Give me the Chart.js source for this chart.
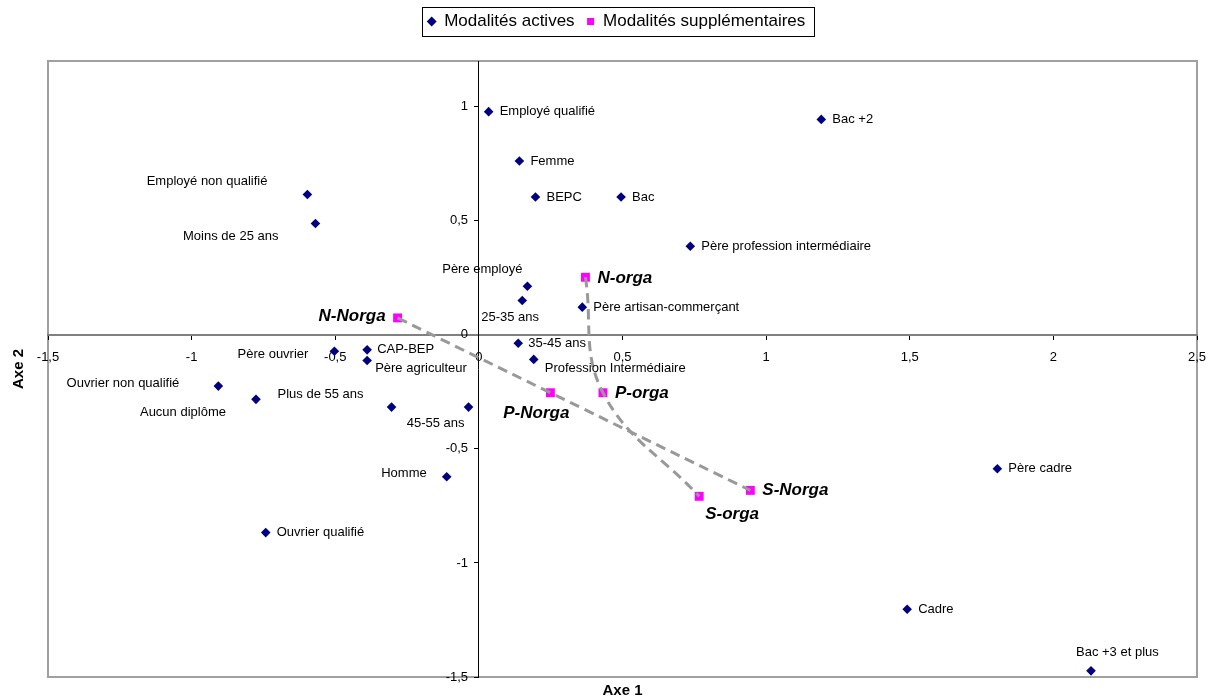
<!DOCTYPE html>
<html lang="fr">
<head>
<meta charset="utf-8">
<title>Modalités actives et supplémentaires</title>
<script src="https://cdn.jsdelivr.net/npm/chart.js@4.4.1/dist/chart.umd.min.js"></script>
<style>
  html, body { margin: 0; padding: 0; background: #fff; }
  #chart { display: block; }
</style>
</head>
<body>
<canvas id="chart" width="1208" height="700"></canvas>
<script>
// Modalités actives (coordonnées sur les axes 1 et 2)
const activeLabels = ['Employé qualifié', 'Bac +2', 'Femme', 'BEPC', 'Bac',
  'Père profession intermédiaire', 'Père employé', '25-35 ans', 'Père artisan-commerçant',
  'Employé non qualifié', 'Moins de 25 ans', 'Père ouvrier', 'CAP-BEP', 'Père agriculteur',
  '35-45 ans', 'Profession Intermédiaire', 'Ouvrier non qualifié', 'Aucun diplôme',
  'Plus de 55 ans', '45-55 ans', 'Homme', 'Ouvrier qualifié', 'Père cadre', 'Cadre',
  'Bac +3 et plus'];
const activeX = [0.034, 1.192, 0.141, 0.197, 0.495, 0.736, 0.169, 0.151, 0.360, -0.597,
  -0.569, -0.503, -0.389, -0.389, 0.137, 0.191, -0.907, -0.776, -0.304, -0.036, -0.112,
  -0.742, 1.805, 1.491, 2.131];
const activeY = [0.978, 0.944, 0.762, 0.604, 0.604, 0.388, 0.213, 0.150, 0.121, 0.615,
  0.488, -0.072, -0.066, -0.113, -0.037, -0.108, -0.225, -0.283, -0.317, -0.317, -0.622,
  -0.867, -0.587, -1.203, -1.473];

// Modalités supplémentaires
const suppLabels = ['N-Norga', 'P-Norga', 'S-Norga', 'N-orga', 'P-orga', 'S-orga'];
const suppX = [-0.283, 0.249, 0.945, 0.371, 0.432, 0.767];
const suppY = [0.074, -0.254, -0.682, 0.252, -0.254, -0.708];

// graduations
const xTicks = [-1.5, -1, -0.5, 0, 0.5, 1, 1.5, 2, 2.5];
const yTicks = [-1.5, -1, -0.5, 0, 0.5, 1];

// placement des étiquettes par rapport au point : [dx, dy, alignement]
const activePlace = [
  [11, 0, 'left'], [11, 0, 'left'], [11, 0, 'left'], [11, 0, 'left'], [11, 0, 'left'],
  [11, 0, 'left'], [-5, -17, 'right'], [-41, 17, 'left'], [11, 0, 'left'],
  [-40, -13, 'right'], [-37, 13, 'right'], [-26, 3, 'right'], [10, 0, 'left'],
  [8, 8, 'left'], [10, 0, 'left'], [11, 9, 'left'], [-39, -3, 'right'],
  [-30, 13, 'right'], [-28, -13, 'right'], [-4, 16, 'right'], [-20, -3, 'right'],
  [11, 0, 'left'], [11, 0, 'left'], [11, 0, 'left'], [-15, -18, 'left']
];
const suppPlace = [
  [-12, -2, 'right'], [19, 21, 'right'], [12, 0, 'left'],
  [12, 1, 'left'], [12, 1, 'left'], [6, 18, 'left']
];

const FONT = '"Liberation Sans", Arial, sans-serif';
Chart.defaults.font.family = FONT;
Chart.defaults.color = '#000';

function pts(xs, ys) {
  return xs.map((x, i) => ({ x: x, y: ys[i] }));
}
function fr(v) {
  return String(v).replace('.', ',');
}

const suppPts = pts(suppX, suppY);

// espace sous la légende et petit décalage horizontal
const legendFix = {
  id: 'legendFix',
  beforeInit(chart) {
    const fit = chart.legend.fit;
    chart.legend.fit = function () {
      fit.call(this);
      this.height += 21;
    };
  },
  afterLayout(chart) {
    chart.legend.left -= 6;
    chart.legend.right -= 6;
  }
};

const decor = {
  id: 'decor',
  beforeDraw(chart) {
    const { ctx, chartArea: a } = chart;
    ctx.save();
    ctx.fillStyle = '#fff';
    ctx.fillRect(0, 0, chart.width, chart.height);
    ctx.strokeStyle = '#a0a0a0';
    ctx.lineWidth = 2;
    ctx.strokeRect(a.left, a.top, a.right - a.left, a.bottom - a.top);
    ctx.restore();
  },
  afterDatasetsDraw(chart) {
    const ctx = chart.ctx;
    ctx.save();
    ctx.textBaseline = 'middle';
    ctx.fillStyle = '#000';
    ctx.font = '13px ' + FONT;
    chart.getDatasetMeta(0).data.forEach((el, i) => {
      const p = activePlace[i];
      ctx.textAlign = p[2];
      ctx.fillText(activeLabels[i], el.x + p[0], el.y + p[1]);
    });
    ctx.font = 'italic bold 17px ' + FONT;
    chart.getDatasetMeta(3).data.forEach((el, i) => {
      const p = suppPlace[i];
      ctx.textAlign = p[2];
      ctx.fillText(suppLabels[i], el.x + p[0], el.y + p[1]);
    });
    ctx.restore();
  },
  afterDraw(chart) {
    const { ctx, chartArea: a } = chart;
    ctx.save();
    // cadre de la légende
    const boxes = chart.legend.legendHitBoxes;
    if (boxes && boxes.length) {
      const l = Math.min(...boxes.map(b => b.left)) - 6;
      const r = Math.max(...boxes.map(b => b.left + b.width)) + 8;
      const cy = boxes[0].top + boxes[0].height / 2;
      ctx.strokeStyle = '#000';
      ctx.lineWidth = 1;
      ctx.strokeRect(Math.round(l) + 0.5, Math.round(cy - 15) + 0.5, Math.round(r - l), 29);
    }
    // titres des axes
    ctx.fillStyle = '#000';
    ctx.font = 'bold 15px ' + FONT;
    ctx.textAlign = 'center';
    ctx.textBaseline = 'middle';
    ctx.fillText('Axe 1', (a.left + a.right) / 2, 691);
    ctx.translate(19, (a.top + a.bottom) / 2);
    ctx.rotate(-Math.PI / 2);
    ctx.fillText('Axe 2', 0, 0);
    ctx.restore();
  }
};

const lineStyle = {
  type: 'scatter',
  showLine: true,
  borderColor: '#999999',
  borderWidth: 3,
  borderDash: [10, 6],
  tension: 0.4,
  pointRadius: 0,
  fill: false
};

new Chart(document.getElementById('chart'), {
  type: 'scatter',
  data: {
    datasets: [
      {
        label: 'Modalités actives',
        data: pts(activeX, activeY),
        pointStyle: 'rectRot',
        pointRadius: 4.8,
        backgroundColor: '#000080',
        borderColor: '#000080',
        borderWidth: 0
      },
      Object.assign({ label: 'Norga', data: suppPts.slice(0, 3) }, lineStyle),
      Object.assign({ label: 'orga', data: suppPts.slice(3, 6) }, lineStyle),
      {
        label: 'Modalités supplémentaires',
        data: suppPts,
        pointStyle: 'rect',
        pointRadius: 6.3,
        backgroundColor: '#ff00ff',
        borderColor: '#ff00ff',
        borderWidth: 0
      }
    ]
  },
  options: {
    responsive: false,
    animation: false,
    layout: { padding: { left: 48, right: 11, top: 1, bottom: 23 } },
    plugins: {
      tooltip: { enabled: false },
      legend: {
        position: 'top',
        labels: {
          usePointStyle: true,
          boxWidth: 8,
          boxHeight: 7,
          padding: 12,
          color: '#000',
          font: { size: 17 },
          filter: item => item.datasetIndex === 0 || item.datasetIndex === 3
        }
      }
    },
    scales: {
      x: {
        type: 'linear',
        min: -1.5,
        max: 2.5,
        position: { y: 0 },
        afterBuildTicks: axis => { axis.ticks = xTicks.map(v => ({ value: v })); },
        border: { color: '#808080', width: 2 },
        grid: { drawOnChartArea: false, drawTicks: true, tickLength: 15, tickBorderDash: [4, 60], color: '#000' },
        ticks: { padding: 0, color: '#000', font: { size: 13 }, maxRotation: 0, autoSkip: false, callback: v => fr(v) }
      },
      y: {
        type: 'linear',
        min: -1.5,
        max: 1.2,
        position: { x: 0 },
        afterBuildTicks: axis => { axis.ticks = yTicks.map(v => ({ value: v })); },
        border: { color: '#000', width: 1 },
        grid: { drawOnChartArea: false, drawTicks: true, tickLength: 4, color: '#000' },
        ticks: { padding: 6, color: '#000', font: { size: 13 }, autoSkip: false, callback: v => fr(v) + '   ' }
      }
    }
  },
  plugins: [legendFix, decor]
});
</script>
</body>
</html>
